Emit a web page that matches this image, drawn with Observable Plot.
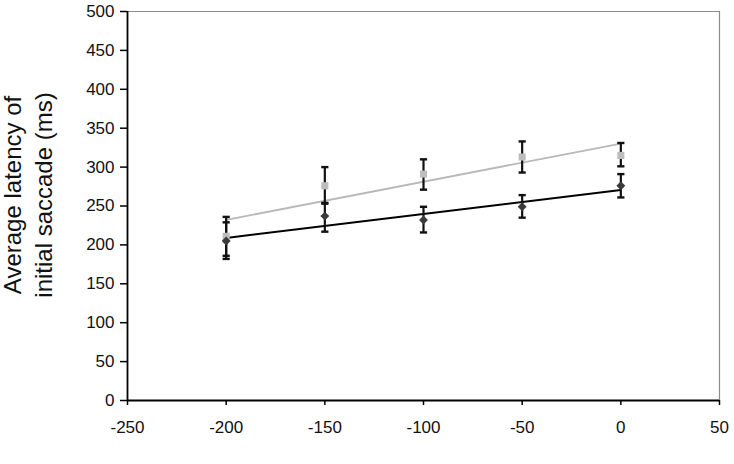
<!DOCTYPE html>
<html>
<head>
<meta charset="utf-8">
<script src="https://cdn.jsdelivr.net/npm/d3@7"></script>
<script src="https://cdn.jsdelivr.net/npm/@observablehq/plot@0.6"></script>
<style>
  html, body { margin: 0; padding: 0; background: #fff; }
  #chart { width: 734px; height: 464px; }
</style>
</head>
<body>
<div id="chart"></div>
<script>
// SOA conditions (ms)
const xs = [-200, -150, -100, -50, 0];
// Light grey series (squares)
const greyMean = [211, 276, 291, 313, 315];
const greyLo   = [186, 253, 271, 293, 301];
const greyHi   = [236, 300, 310, 333, 331];
// Dark series (diamonds)
const darkMean = [205, 237, 232, 249, 276];
const darkLo   = [182, 217, 216, 235, 261];
const darkHi   = [229, 254, 249, 264, 291];
// Axis ticks
const xTicks = [-250, -200, -150, -100, -50, 0, 50];
const yTicks = [0, 50, 100, 150, 200, 250, 300, 350, 400, 450, 500];
const yLabel = "Average latency of\ninitial saccade (ms)";

const grey = xs.map((x, i) => ({x, mean: greyMean[i], lo: greyLo[i], hi: greyHi[i]}));
const dark = xs.map((x, i) => ({x, mean: darkMean[i], lo: darkLo[i], hi: darkHi[i]}));
const all = grey.concat(dark);

const cap = {
  draw(ctx, size) {
    const w = Math.sqrt(size / Math.PI);
    ctx.moveTo(-w, 0);
    ctx.lineTo(w, 0);
  }
};

const chart = Plot.plot({
  width: 734,
  height: 464,
  marginLeft: 127,
  marginRight: 15,
  marginTop: 11,
  marginBottom: 64,
  style: {fontFamily: "'Liberation Sans', Arial, sans-serif", fontSize: "17px", color: "#111", background: "#fff"},
  x: {domain: [-250, 50]},
  y: {domain: [0, 500]},
  marks: [
    // frame: top & right grey, left & bottom black
    Plot.ruleY([500], {stroke: "#8c8c8c", strokeWidth: 1.2}),
    Plot.ruleX([50], {stroke: "#8c8c8c", strokeWidth: 1.2}),
    Plot.axisY({ticks: yTicks, tickSize: 7, tickPadding: 6, tickFormat: d => String(d), label: null, stroke: "#000", strokeWidth: 1.5}),
    Plot.axisX({ticks: xTicks, tickSize: 5, tickPadding: 15, tickFormat: d => String(d), label: null, stroke: "#000", strokeWidth: 1.5}),
    Plot.ruleX([-250], {stroke: "#000", strokeWidth: 1.8}),
    Plot.ruleY([0], {stroke: "#000", strokeWidth: 1.8}),
    // regression trend lines
    Plot.linearRegressionY(grey, {x: "x", y: "mean", stroke: "#b8b8b8", strokeWidth: 1.8, ci: 0}),
    Plot.linearRegressionY(dark, {x: "x", y: "mean", stroke: "#000", strokeWidth: 2, ci: 0}),
    // error bars
    Plot.ruleX(all, {x: "x", y1: "lo", y2: "hi", stroke: "#111", strokeWidth: 2.2}),
    Plot.dot(all, {x: "x", y: "lo", symbol: cap, r: 3.6, stroke: "#111", strokeWidth: 2.4}),
    Plot.dot(all, {x: "x", y: "hi", symbol: cap, r: 3.6, stroke: "#111", strokeWidth: 2.4}),
    // markers
    Plot.dot(grey, {x: "x", y: "mean", symbol: "square", r: 4, fill: "#bdbdbd", stroke: "none"}),
    Plot.dot(dark, {x: "x", y: "mean", symbol: "diamond2", r: 4, fill: "#3a3a3a", stroke: "none"}),
    // y axis title
    Plot.text([yLabel], {frameAnchor: "left", text: d => d, rotate: -90, textAnchor: "middle", lineAnchor: "middle",
      dx: -101, dy: -11, fontSize: 24, lineHeight: 1.3, fill: "#111"})
  ]
});
document.getElementById("chart").appendChild(chart);
</script>
</body>
</html>
